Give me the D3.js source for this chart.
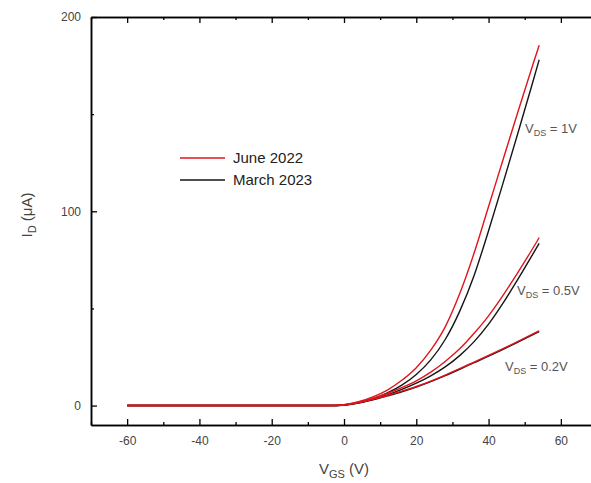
<!DOCTYPE html>
<html>
<head>
<meta charset="utf-8">
<script src="https://cdn.jsdelivr.net/npm/d3@7"></script>
<style>
  body { margin: 0; background: #fff; }
  svg text { font-family: "Liberation Sans", Arial, sans-serif; }
</style>
</head>
<body>
<script>
"use strict"

// gate voltage points (V)
const vgs = [-60, -40, -20, -4, 0, 4, 8, 12, 16, 20, 24, 28, 32, 36, 40, 44, 48, 52, 54]

// drain current (uA)
const june_1v   = [0, 0, 0, 0, 0.5, 2, 4.5, 8, 13, 19.5, 28.5, 40.5, 57.5, 78.5, 102.5, 126.5, 150.5, 174, 185.5]
const march_1v  = [0, 0, 0, 0, 0.3, 1.5, 3.5, 6.5, 10.5, 16, 23.5, 34, 48.5, 67, 90, 114.5, 139.5, 165, 178]
const june_05v  = [0, 0, 0, 0, 0.4, 1.7, 3.7, 6.2, 9.2, 12.7, 17.2, 22.7, 29.2, 37.2, 46.2, 56.7, 68.2, 80.2, 86.4]
const march_05v = [0, 0, 0, 0, 0.3, 1.4, 3.2, 5.5, 8.3, 11.5, 15.3, 19.9, 25.7, 32.9, 41.9, 52.7, 64.7, 77.2, 83.5]
const june_02v  = [0, 0, 0, 0, 0.3, 1.4, 3.2, 5.2, 7.4, 9.8, 12.6, 15.7, 19, 22.4, 25.8, 29.3, 32.9, 36.6, 38.5]
const march_02v = [0, 0, 0, 0, 0.2, 1.3, 3, 5, 7.1, 9.5, 12.3, 15.4, 18.7, 22.1, 25.4, 28.9, 32.5, 36.2, 38.1]

const x_ticks = [-60, -40, -20, 0, 20, 40, 60]
const x_minor = [-70, -50, -30, -10, 10, 30, 50, 70]
const y_ticks = [0, 100, 200]
const y_minor = [50, 150]

const legend_names = ['June 2022', 'March 2023']
const vds_labels = ['1V', '0.5V', '0.2V']

const w = 591, h = 483
const pl = 91, pr = 597, pt = 17, pb = 425
const red = '#e2141b', black = '#151515'

const x_scale = d3.scaleLinear([-70, 70], [pl, pr])
const y_scale = d3.scaleLinear([-10, 200], [pb, pt])

let svg = d3.select('body')
   .append('svg')
      .attr('width', w)
      .attr('height', h)

// frame axes, ticks pointing inward
const axis_style = g => {
   g.select('.domain').attr('stroke', '#000').attr('stroke-width', 1.5)
   g.selectAll('.tick line').attr('stroke', '#000').attr('stroke-width', 1.3)
   g.selectAll('.tick text').attr('fill', '#444').style('font-size', '12px')
}
const plain = d => String(d)

svg.append('g')
   .attr('transform', `translate(0, ${pb})`)
   .call(d3.axisBottom(x_scale).tickValues(x_ticks).tickFormat(plain).tickSizeInner(-6).tickSizeOuter(0).tickPadding(11))
   .call(axis_style)
svg.append('g')
   .attr('transform', `translate(0, ${pb})`)
   .call(d3.axisBottom(x_scale).tickValues(x_minor).tickSizeInner(-3).tickSizeOuter(0).tickFormat(''))
   .call(axis_style)

svg.append('g')
   .attr('transform', `translate(0, ${pt})`)
   .call(d3.axisTop(x_scale).tickValues(x_ticks).tickSizeInner(-6).tickSizeOuter(0).tickFormat(''))
   .call(axis_style)
svg.append('g')
   .attr('transform', `translate(0, ${pt})`)
   .call(d3.axisTop(x_scale).tickValues(x_minor).tickSizeInner(-3).tickSizeOuter(0).tickFormat(''))
   .call(axis_style)

svg.append('g')
   .attr('transform', `translate(${pl}, 0)`)
   .call(d3.axisLeft(y_scale).tickValues(y_ticks).tickFormat(plain).tickSizeInner(-6).tickSizeOuter(0).tickPadding(10))
   .call(axis_style)
svg.append('g')
   .attr('transform', `translate(${pl}, 0)`)
   .call(d3.axisLeft(y_scale).tickValues(y_minor).tickSizeInner(-3).tickSizeOuter(0).tickFormat(''))
   .call(axis_style)

svg.append('g')
   .attr('transform', `translate(${pr}, 0)`)
   .call(d3.axisRight(y_scale).tickValues(y_ticks).tickSizeInner(-6).tickSizeOuter(0).tickFormat(''))
   .call(axis_style)
svg.append('g')
   .attr('transform', `translate(${pr}, 0)`)
   .call(d3.axisRight(y_scale).tickValues(y_minor).tickSizeInner(-3).tickSizeOuter(0).tickFormat(''))
   .call(axis_style)

// curves
const line = d3.line()
   .x((d, i) => x_scale(vgs[i]))
   .y(d => y_scale(d))
   .curve(d3.curveMonotoneX)

const series = [
   { v: march_1v, c: black }, { v: march_05v, c: black }, { v: march_02v, c: black },
   { v: june_1v, c: red }, { v: june_05v, c: red }, { v: june_02v, c: red }
]

svg.selectAll('path.curve')
   .data(series)
   .enter()
   .append('path')
      .attr('class', 'curve')
      .attr('d', d => line(d.v))
      .attr('fill', 'none')
      .attr('stroke', d => d.c)
      .attr('stroke-width', 1.4)

// axis titles
svg.append('text')
   .attr('x', 344)
   .attr('y', 474)
   .attr('text-anchor', 'middle')
   .attr('fill', '#444')
   .style('font-size', '15px')
   .html('V<tspan font-size="11px" dy="4">GS</tspan><tspan dy="-4"> (V)</tspan>')

svg.append('text')
   .attr('transform', 'translate(32, 215) rotate(-90)')
   .attr('text-anchor', 'middle')
   .attr('fill', '#444')
   .style('font-size', '15px')
   .html('I<tspan font-size="11px" dy="4">D</tspan><tspan dy="-4"> (μA)</tspan>')

// legend
const legend = svg.append('g')
legend.selectAll('line')
   .data(legend_names)
   .enter()
   .append('line')
      .attr('x1', 180).attr('x2', 225)
      .attr('y1', (d, i) => 158 + i * 22)
      .attr('y2', (d, i) => 158 + i * 22)
      .attr('stroke', (d, i) => i ? black : red)
      .attr('stroke-width', 1.4)
legend.selectAll('text')
   .data(legend_names)
   .enter()
   .append('text')
      .attr('x', 233)
      .attr('y', (d, i) => 163 + i * 22)
      .attr('fill', '#222')
      .style('font-size', '15px')
      .text(d => d)

// V_DS annotations
const vds_pos = [[525, 133], [517, 295], [505, 371]]
svg.selectAll('text.vds')
   .data(vds_labels)
   .enter()
   .append('text')
      .attr('class', 'vds')
      .attr('x', (d, i) => vds_pos[i][0])
      .attr('y', (d, i) => vds_pos[i][1])
      .attr('fill', '#555')
      .style('font-size', '13px')
      .html(d => `V<tspan font-size="9px" dy="3">DS</tspan><tspan dy="-3"> = ${d}</tspan>`)
</script>
</body>
</html>
